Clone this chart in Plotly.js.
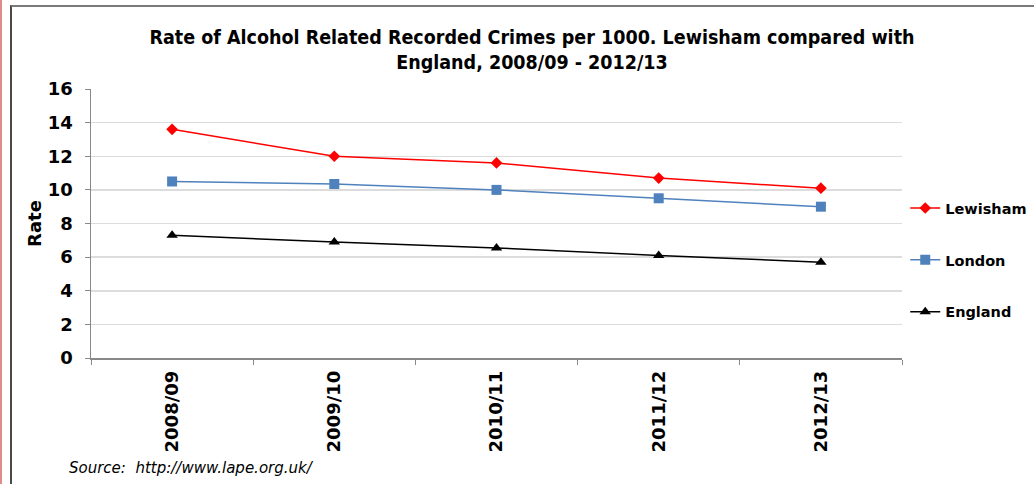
<!DOCTYPE html>
<html>
<head>
<meta charset="utf-8">
<script src="https://cdn.plot.ly/plotly-3.0.1.min.js"></script>
<style>
  html, body { margin: 0; padding: 0; background: #fff; }
  #wrap { position: relative; width: 1034px; height: 484px; overflow: hidden; }
  #chart { position: absolute; left: 0; top: 0; width: 1034px; height: 484px; }
  #redline { position: absolute; left: 0; top: 0; width: 2px; height: 484px; background: #e08a8a; z-index: 2; }
  #frame { position: absolute; left: 10px; top: 5px; width: 1030px; height: 490px;
           border-top: 2px solid #7a7a7a; border-left: 2px solid #4a4a4a; z-index: 2; pointer-events: none; }
</style>
</head>
<body>
<div id="wrap">
  <div id="chart"></div>
  <div id="redline"></div>
  <div id="frame"></div>
</div>
<script>
const years = ["2008/09", "2009/10", "2010/11", "2011/12", "2012/13"];
const lewisham = [13.6, 12.0, 11.6, 10.7, 10.1];
const london = [10.5, 10.35, 10.0, 9.5, 9.0];
const england = [7.3, 6.9, 6.55, 6.1, 5.7];

const FONT = "DejaVu Sans, Verdana, sans-serif";

const traces = [
  { x: years, y: lewisham, name: "Lewisham", type: "scatter", mode: "lines+markers",
    line: { color: "#ff0000", width: 1.5 },
    marker: { symbol: "diamond", size: 9, color: "#ff0000" }, legendgroup: "a" },
  { x: years, y: london, name: "London", type: "scatter", mode: "lines+markers",
    line: { color: "#4f81bd", width: 1.5 },
    marker: { symbol: "square", size: 10, color: "#4f81bd" }, legendgroup: "b" },
  { x: years, y: england, name: "England", type: "scatter", mode: "lines+markers",
    line: { color: "#000000", width: 1.5 },
    marker: { symbol: "triangle-up", size: 10, color: "#000000" }, legendgroup: "c" }
];

const layout = {
  width: 1034, height: 484,
  margin: { l: 91, r: 132, t: 89, b: 126, autoexpand: false },
  paper_bgcolor: "rgba(0,0,0,0)", plot_bgcolor: "#fff",
  font: { family: FONT, color: "#000" },
  title: {
    text: "<b>Rate of Alcohol Related Recorded Crimes per 1000. Lewisham compared with<br>England, 2008/09 - 2012/13</b>",
    font: { family: "DejaVu Sans Condensed, DejaVu Sans, sans-serif", size: 19.5, color: "#000" },
    x: 0.5145, xref: "container", xanchor: "center",
    y: 0.91, yref: "container", yanchor: "top"
  },
  xaxis: {
    type: "category", tickangle: -90, tickson: "boundaries",
    ticks: "outside", ticklen: 5, tickcolor: "#888",
    showline: true, linecolor: "#888", linewidth: 1.5,
    showgrid: false,
    tickfont: { family: FONT, size: 18, color: "#000", weight: "bold" },
    ticklabelstandoff: 4,
    range: [-0.5, 4.5]
  },
  yaxis: {
    range: [0, 16], dtick: 2, tick0: 0,
    ticks: "outside", ticklen: 5, tickcolor: "#888",
    showline: true, linecolor: "#888", linewidth: 1.5,
    gridcolor: "#dcdcdc", gridwidth: 1.5,
    zeroline: false,
    tickfont: { family: FONT, size: 18, color: "#000", weight: "bold" },
    ticklabelstandoff: 8,
    title: { text: "<b>Rate</b>", font: { family: FONT, size: 18, color: "#000" }, standoff: 1 }
  },
  showlegend: true,
  legend: {
    x: 1.004, xanchor: "left", y: 0.364, yanchor: "middle",
    font: { family: FONT, size: 14.5, color: "#000", weight: "bold" },
    itemwidth: 30, tracegroupgap: 30, traceorder: "grouped",
    bgcolor: "rgba(0,0,0,0)"
  },
  annotations: [{
    text: "<i>Source:  http://www.lape.org.uk/</i>",
    xref: "paper", yref: "paper", x: -0.03, y: -0.409,
    xanchor: "left", yanchor: "middle", showarrow: false,
    font: { family: FONT, size: 15, color: "#000" }
  }]
};

Plotly.newPlot("chart", traces, layout, { displayModeBar: false, staticPlot: true });
</script>
</body>
</html>
